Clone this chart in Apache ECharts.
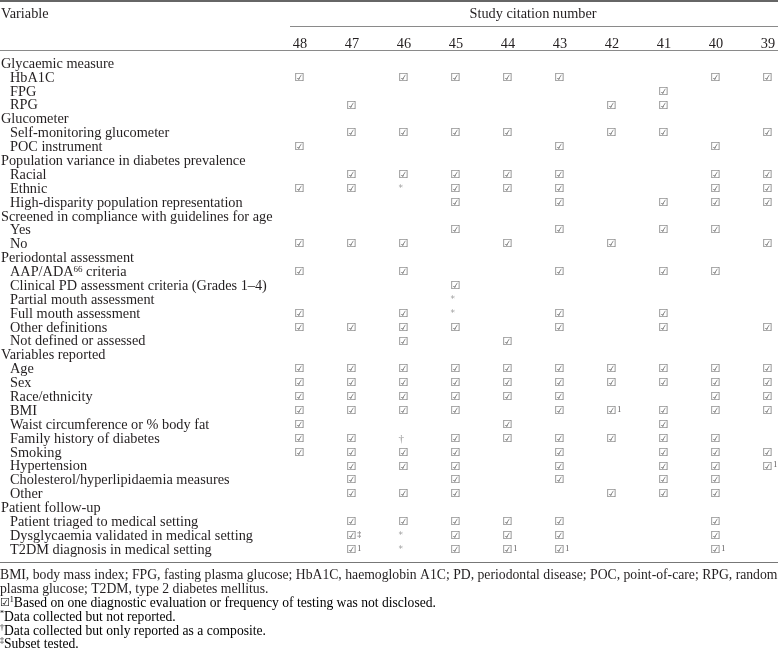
<!DOCTYPE html>
<html>
<head>
<meta charset="utf-8">
<script src="https://cdn.jsdelivr.net/npm/echarts@6/dist/echarts.min.js"></script>
<style>
html,body{margin:0;padding:0;background:#fff;}
#chart{width:778px;height:649px;}
</style>
</head>
<body>
<div id="chart"></div>
<script>
// Study citation numbers (columns)
var studies = ['48', '47', '46', '45', '44', '43', '42', '41', '40', '39'];

// Row labels (top to bottom)
var rowLabels = [
  'Glycaemic measure', 'HbA1C', 'FPG', 'RPG',
  'Glucometer', 'Self-monitoring glucometer', 'POC instrument',
  'Population variance in diabetes prevalence', 'Racial', 'Ethnic', 'High-disparity population representation',
  'Screened in compliance with guidelines for age', 'Yes', 'No',
  'Periodontal assessment', 'AAP/ADA66 criteria', 'Clinical PD assessment criteria (Grades 1\u20134)',
  'Partial mouth assessment', 'Full mouth assessment', 'Other definitions', 'Not defined or assessed',
  'Variables reported', 'Age', 'Sex', 'Race/ethnicity', 'BMI', 'Waist circumference or % body fat',
  'Family history of diabetes', 'Smoking', 'Hypertension', 'Cholesterol/hyperlipidaemia measures', 'Other',
  'Patient follow-up', 'Patient triaged to medical setting', 'Dysglycaemia validated in medical setting',
  'T2DM diagnosis in medical setting'
];

// Group header rows (not indented)
var groupHeaders = [
  'Glycaemic measure', 'Glucometer', 'Population variance in diabetes prevalence',
  'Screened in compliance with guidelines for age', 'Periodontal assessment',
  'Variables reported', 'Patient follow-up'
];

// Cell marks per row, columns in order of `studies`
// v = checked, v1 = checked with footnote 1, v‡ = checked, subset tested, * = collected not reported, † = composite
var marks = [
  ['', '', '', '', '', '', '', '', '', ''],
  ['v', '', 'v', 'v', 'v', 'v', '', '', 'v', 'v'],
  ['', '', '', '', '', '', '', 'v', '', ''],
  ['', 'v', '', '', '', '', 'v', 'v', '', ''],
  ['', '', '', '', '', '', '', '', '', ''],
  ['', 'v', 'v', 'v', 'v', '', 'v', 'v', '', 'v'],
  ['v', '', '', '', '', 'v', '', '', 'v', ''],
  ['', '', '', '', '', '', '', '', '', ''],
  ['', 'v', 'v', 'v', 'v', 'v', '', '', 'v', 'v'],
  ['v', 'v', '*', 'v', 'v', 'v', '', '', 'v', 'v'],
  ['', '', '', 'v', '', 'v', '', 'v', 'v', 'v'],
  ['', '', '', '', '', '', '', '', '', ''],
  ['', '', '', 'v', '', 'v', '', 'v', 'v', ''],
  ['v', 'v', 'v', '', 'v', '', 'v', '', '', 'v'],
  ['', '', '', '', '', '', '', '', '', ''],
  ['v', '', 'v', '', '', 'v', '', 'v', 'v', ''],
  ['', '', '', 'v', '', '', '', '', '', ''],
  ['', '', '', '*', '', '', '', '', '', ''],
  ['v', '', 'v', '*', '', 'v', '', 'v', '', ''],
  ['v', 'v', 'v', 'v', '', 'v', '', 'v', '', 'v'],
  ['', '', 'v', '', 'v', '', '', '', '', ''],
  ['', '', '', '', '', '', '', '', '', ''],
  ['v', 'v', 'v', 'v', 'v', 'v', 'v', 'v', 'v', 'v'],
  ['v', 'v', 'v', 'v', 'v', 'v', 'v', 'v', 'v', 'v'],
  ['v', 'v', 'v', 'v', 'v', 'v', '', '', 'v', 'v'],
  ['v', 'v', 'v', 'v', '', 'v', 'v1', 'v', 'v', 'v'],
  ['v', '', '', '', 'v', '', '', 'v', '', ''],
  ['v', 'v', '\u2020', 'v', 'v', 'v', 'v', 'v', 'v', ''],
  ['v', 'v', 'v', 'v', '', 'v', '', 'v', 'v', 'v'],
  ['', 'v', 'v', 'v', '', 'v', '', 'v', 'v', 'v1'],
  ['', 'v', '', 'v', '', 'v', '', 'v', 'v', ''],
  ['', 'v', 'v', 'v', '', '', 'v', 'v', 'v', ''],
  ['', '', '', '', '', '', '', '', '', ''],
  ['', 'v', 'v', 'v', 'v', 'v', '', '', 'v', ''],
  ['', 'v\u2021', '*', 'v', 'v', 'v', '', '', 'v', ''],
  ['', 'v1', '*', 'v', 'v1', 'v1', '', '', 'v1', '']
];

var footnotes = [
  'BMI, body mass index; FPG, fasting plasma glucose; HbA1C, haemoglobin A1C; PD, periodontal disease; POC, point-of-care; RPG, random',
  'plasma glucose; T2DM, type 2 diabetes mellitus.'
];

var SERIF = '"Liberation Serif", "Times New Roman", serif';
var TXT = '#231f20';
var BOX = '#333';
var FS = 14.3;

var cells = [];
marks.forEach(function (row, r) {
  row.forEach(function (m, c) {
    if (m) cells.push([studies[c], rowLabels[r], m]);
  });
});

function markText(m) {
  if (m === 'v') return '{b|\u2611}';
  if (m === 'v1') return '{b|\u2611}{sup|1}';
  if (m === 'v\u2021') return '{b|\u2611}{sup|\u2021}';
  if (m === '*') return '{st|*}';
  if (m === '\u2020') return '{dg|\u2020}';
  return '';
}

var supStyle = {fontFamily: SERIF, fontSize: 8, color: TXT, verticalAlign: 'top', lineHeight: 8, padding: [0, 0, 4, 0]};
var ftStyle = {fontFamily: SERIF, fontSize: 13.6, color: TXT};

var chart = echarts.init(document.getElementById('chart'), null, {renderer: 'canvas'});
chart.setOption({
  animation: false,
  backgroundColor: '#fff',
  grid: {left: 300, right: 10, top: 64, bottom: 99, outerBoundsMode: 'none', containLabel: false},
  xAxis: {
    type: 'category',
    position: 'top',
    data: studies,
    boundaryGap: false,
    axisLine: {show: false},
    axisTick: {show: false},
    splitLine: {show: false},
    axisLabel: {interval: 0, margin: 13, fontFamily: SERIF, fontSize: FS, color: TXT}
  },
  yAxis: {
    type: 'category',
    inverse: true,
    data: rowLabels,
    boundaryGap: false,
    axisLine: {show: false},
    axisTick: {show: false},
    splitLine: {show: false},
    axisLabel: {
      interval: 0,
      margin: 299,
      align: 'left',
      formatter: function (v) {
        if (groupHeaders.indexOf(v) >= 0) return '{h|' + v + '}';
        if (v === 'AAP/ADA66 criteria') return '{s|AAP/ADA}{sup|66}{t| criteria}';
        return '{s|' + v + '}';
      },
      rich: {
        h: {fontFamily: SERIF, fontSize: FS, color: TXT},
        s: {fontFamily: SERIF, fontSize: FS, color: TXT, padding: [0, 0, 0, 9]},
        t: {fontFamily: SERIF, fontSize: FS, color: TXT},
        sup: {fontFamily: SERIF, fontSize: 9, color: TXT, verticalAlign: 'top', lineHeight: 10, padding: [0, 0, 6, 0]}
      }
    }
  },
  series: [{
    type: 'scatter',
    data: cells,
    symbolSize: 1,
    itemStyle: {color: 'rgba(0,0,0,0)'},
    label: {
      show: true,
      position: 'inside',
      align: 'left',
      offset: [-5.5, 0],
      formatter: function (p) { return markText(p.value[2]); },
      rich: {
        b: {fontFamily: '"DejaVu Sans"', fontSize: 11, color: BOX},
        sup: {fontFamily: SERIF, fontSize: 8, color: TXT, verticalAlign: 'top', lineHeight: 8, padding: [0, 0, 4, 1]},
        st: {fontFamily: '"DejaVu Sans"', fontSize: 9, color: '#888'},
        dg: {fontFamily: SERIF, fontSize: 11, color: '#777'}
      }
    }
  }],
  graphic: [
    {type: 'line', shape: {x1: 0, y1: 1, x2: 778, y2: 1}, style: {stroke: '#333', lineWidth: 1.5}},
    {type: 'text', x: 1, y: 14, style: {text: 'Variable', font: FS + 'px ' + SERIF, fill: TXT, textVerticalAlign: 'middle'}},
    {type: 'text', x: 533, y: 14, style: {text: 'Study citation number', font: FS + 'px ' + SERIF, fill: TXT, textAlign: 'center', textVerticalAlign: 'middle'}},
    {type: 'line', shape: {x1: 290, y1: 26.5, x2: 778, y2: 26.5}, style: {stroke: '#8a8a8a', lineWidth: 1}},
    {type: 'line', shape: {x1: 0, y1: 50.5, x2: 778, y2: 50.5}, style: {stroke: '#8a8a8a', lineWidth: 1.2}},
    {type: 'line', shape: {x1: 0, y1: 562.5, x2: 778, y2: 562.5}, style: {stroke: '#777', lineWidth: 1.2}},
    {type: 'text', x: 0, y: 575, style: {text: footnotes[0], font: '13.7px ' + SERIF, fill: TXT, textVerticalAlign: 'middle'}},
    {type: 'text', x: 0, y: 589, style: {text: footnotes[1], font: '13.7px ' + SERIF, fill: TXT, textVerticalAlign: 'middle'}},
    {type: 'text', x: 0, y: 603, style: {
      text: '{b|\u2611}{sup|1}{t|Based on one diagnostic evaluation or frequency of testing was not disclosed.}',
      textVerticalAlign: 'middle',
      rich: {b: {fontFamily: '"DejaVu Sans"', fontSize: 11, color: BOX}, sup: supStyle, t: ftStyle}
    }},
    {type: 'text', x: 0, y: 617, style: {
      text: '{sup|*}{t|Data collected but not reported.}', textVerticalAlign: 'middle',
      rich: {sup: supStyle, t: ftStyle}
    }},
    {type: 'text', x: 0, y: 631, style: {
      text: '{sup|\u2020}{t|Data collected but only reported as a composite.}', textVerticalAlign: 'middle',
      rich: {sup: supStyle, t: ftStyle}
    }},
    {type: 'text', x: 0, y: 644, style: {
      text: '{sup|\u2021}{t|Subset tested.}', textVerticalAlign: 'middle',
      rich: {sup: supStyle, t: ftStyle}
    }}
  ]
});
</script>
</body>
</html>
